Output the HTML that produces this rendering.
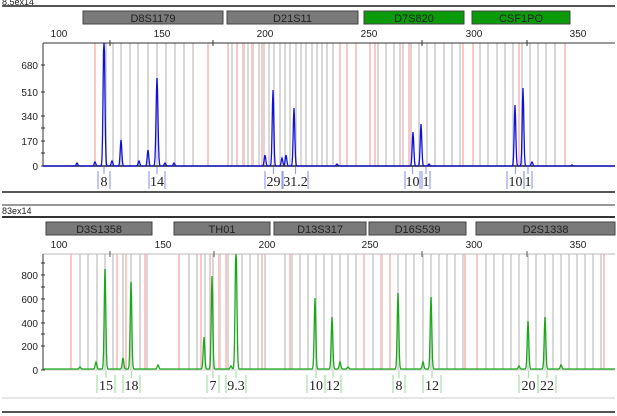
<!DOCTYPE html><html><head><style>body{margin:0;background:#fff}svg{display:block}text{font-family:"Liberation Sans",sans-serif}text.sf{font-family:"Liberation Serif",serif}</style></head><body>
<svg id="s" width="617" height="416" xmlns="http://www.w3.org/2000/svg"></svg>
<script>
const s=document.getElementById('s');let h='';
function L(x1,y1,x2,y2,c,w){h+=`<line x1="${x1}" y1="${y1}" x2="${x2}" y2="${y2}" stroke="${c}" stroke-width="${w||1}"/>`;}
function T(x,y,t,sz,a,f){h+=`<text x="${x}" y="${y}" font-size="${sz}" text-anchor="${a||'middle'}" ${f?'class="sf"':''} fill="#222">${t}</text>`;}
function box(x1,x2,y,t,g){h+=`<rect x="${x1}" y="${y}" width="${x2-x1}" height="13" fill="${g?'#0a9a0a':'#7a7a7a'}" stroke="#444" stroke-width="1"/>`;T((x1+x2)/2,y+11,t,11);}
function bins(top,bot,list,c){list.forEach(x=>L(x,top,x,bot,c,2));}
function range(a,b,st){let r=[];for(let x=a;x<=b;x+=st)r.push(Math.round(x));return r;}
function peaks(y0,top,list,col){let d='M43 '+y0;for(let x=43;x<=615;x+=0.5){let y=y0;list.forEach(p=>{y-= (y0-p[1])*Math.exp(-Math.pow((x-p[0])/(p[2]||1.1),2));});y=Math.max(y,top);d+=` L${x} ${y.toFixed(1)}`;}h+=`<path d="${d}" fill="none" stroke="${col}" stroke-width="1.3"/>`;}
function lab(y,list,col){list.forEach(l=>{L(l[1],y,l[1],y+18,col,1.2);L(l[2],y,l[2],y+18,col,1.2);L((l[1]+l[2])/2,y-4,(l[1]+l[2])/2,y+3,col,1.2);T((l[1]+l[2])/2,y+15,l[0],14,'middle',1);});}
// TOP
L(2,6,615,6,'#555',2);T(2,5,'8.5ex14',9,'start');
box(83,223,11,'D8S1179');box(227,358,11,'D21S11');box(364,464,11,'D7S820',1);box(472,570,11,'CSF1PO',1);
bins(43,166,[106,113,121,130,138,148,157,166,175,184,193].concat(range(232,335,5.3),range(378,462,8.2),range(480,560,8.3)),'#d8d8d8');
bins(43,166,[95,208,228,237,244,252,262,340,347,356,370,375,400,409,463,473,519,565],'#fbc8c8');
[[100,59],[150,162],[200,265],[250,369],[300,474],[350,578]].forEach(a=>T(a[1],37,a[0],10));
L(43,43,615,43,'#333');[110,213,422,527].forEach(x=>L(x,40,x,46,'#333'));
L(43,43,43,166,'#333');L(43,166,615,166,'#222',1.5);
[[680,65],[510,92],[340,116],[170,141],[0,166]].forEach(a=>{T(38,a[1]+4,a[0],10,'end');L(41,a[1],45,a[1],'#333');});
[128,153].forEach(y=>L(41,y,45,y,'#333'));
peaks(166,43,[[77,163],[95,162],[104,30,1.2],[112,161],[121,140],[139,161],[148,150],[157,78,1.3],[165,163],[174,163],[265,155],[273,90],[282,158],[286,155],[294,108],[337,164],[413,132],[421,124],[429,164],[515,105],[523,88],[532,162],[572,165]],'#1010dd');
lab(171,[['8',98,110],['14',149,165],['29',265,282],['31.2',283,308],['10',405,420],['1',422,430],['10',507,524],['1',524,532]],'#9aa0f0');
L(2,192,615,192,'#555',2);
// BOTTOM
L(2,205,615,205,'#777',1.5);T(2,214,'83ex14',9,'start');L(2,217,615,217,'#333',2);
box(46,152,222,'D3S1358');box(174,270,222,'TH01');box(274,366,222,'D13S317');box(369,466,222,'D16S539');box(476,615,222,'D2S1338');
bins(254,370,[80,88,97,105,113,123,131,140,147,189,197,205,213,220,228,242,250,258,265,285,292,300,308,316,324,332,340,348,356,364,373,382,390,398,406,414,423,431,439,447,455,463,486,494,503,511,519,528,536,545,553,561,569,577,585,593,601],'#d8d8d8');
bins(254,370,[71,117,126,145,179,201,210,219,226,262,290,364,381,390,465,477,604],'#fbc8c8');
[[100,59],[150,163],[200,267],[250,370],[300,474],[350,578]].forEach(a=>T(a[1],248,a[0],10));
L(43,254,615,254,'#bbb');[110,214,422,527].forEach(x=>L(x,251,x,257,'#555'));
L(43,254,43,370,'#333');L(43,370,615,370,'#ccc',1);
[[800,275],[600,299],[400,323],[200,346],[0,370]].forEach(a=>{T(38,a[1]+4,a[0],10,'end');L(41,a[1],45,a[1],'#333');});
[263,287,311,334].forEach(y=>L(41,y,45,y,'#333'));
peaks(369,254,[[80,367],[96,362],[105,269],[123,358],[131,282],[158,365],[204,337],[212,276],[236,240,1.2],[231,366],[315,298],[332,317],[340,362],[348,367],[398,293],[423,362],[431,297],[519,366],[528,321],[545,317],[561,365]],'#18a818');
lab(375,[['15',97,115],['18',123,140],['7',207,219],['9.3',226,246],['10',307,325],['12',325,341],['8',393,405],['12',423,441],['20',519,538],['22',538,556]],'#a8e0a8');
L(2,398,615,398,'#ccc',1);L(2,412,615,412,'#555',2);
s.innerHTML=h;
</script></body></html>
